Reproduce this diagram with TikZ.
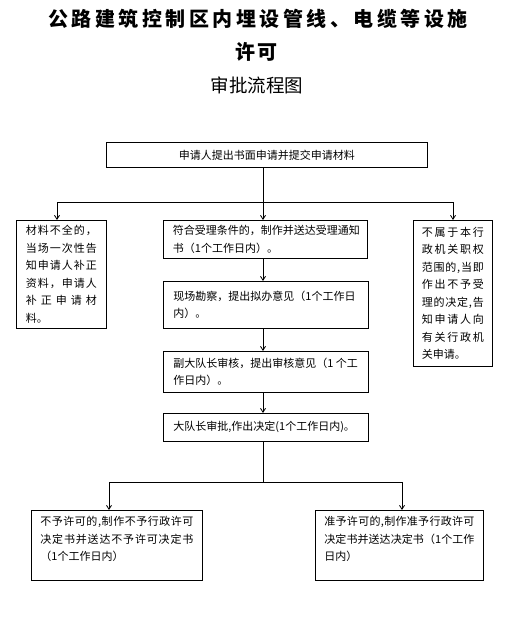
\documentclass[tikz,border=0pt]{standalone}
\usepackage{fontspec}
\setmainfont{Noto Sans CJK SC}
\usetikzlibrary{arrows.meta}
\newcommand\spr[2]{\makebox[#1][s]{\spaceskip=0pt plus 1fil\xspaceskip=0pt plus 1fil\relax #2}}
\tikzset{
  box/.style={draw, line width=0.8pt, rectangle, inner sep=0pt, anchor=north west,
    font=\fontsize{11}{17.5}\selectfont},
  ln/.style={line width=0.8pt},
  conn/.style={line width=0.8pt, -{Straight Barb[length=4pt,width=5pt]}},
}
\begin{document}
\begin{tikzpicture}[x=1pt,y=-1pt]
\useasboundingbox (0,0) rectangle (522,627);
% titles
\node[font=\fontsize{20}{24}\selectfont\bfseries] (t1) at (258,19)
  {\spr{420pt}{公 路 建 筑 控 制 区 内 埋 设 管 线 、 电 缆 等 设 施}};
\node[font=\fontsize{20}{24}\selectfont\bfseries] (t2) at (256,52)
  {\spr{42pt}{许 可}};
\node[font=\fontsize{18.5}{22}\selectfont] (t3) at (257,85) {审批流程图};
% boxes
\node[box, minimum width=321pt, minimum height=25pt] (top) at (106,142)
  {申请人提出书面申请并提交申请材料};
\node[box, minimum width=90pt, minimum height=108pt] (left) at (16,220)
  {\parbox{71pt}{%
    \spr{71pt}{材 料 不 全 的 ，}\\
    \spr{71pt}{当 场 一 次 性 告}\\
    \spr{71pt}{知 申 请 人 补 正}\\
    \spr{71pt}{资 料 ， 申 请 人}\\
    \spr{71pt}{补 正 申 请 材}\\
    料。}};
\node[box, minimum width=204pt, minimum height=38pt] (c1) at (163,220)
  {\parbox{185pt}{符合受理条件的，制作并送达受理通知\\书（1个工作日内）。}};
\node[box, minimum width=79pt, minimum height=146pt] (right) at (413,220)
  {\parbox{62pt}{%
    \spr{62pt}{不 属 于 本 行}\\
    \spr{62pt}{政 机 关 职 权}\\
    \spr{62pt}{范 围 的 , 当 即}\\
    \spr{62pt}{作 出 不 予 受}\\
    \spr{62pt}{理 的 决 定 , 告}\\
    \spr{62pt}{知 申 请 人 向}\\
    \spr{62pt}{有 关 行 政 机}\\
    关申请。}};
\node[box, minimum width=205pt, minimum height=47pt] (c2) at (163,281)
  {\parbox{185pt}{现场勘察，提出拟办意见（1个工作日\\内）。}};
\node[box, minimum width=205pt, minimum height=41pt] (c3) at (163,351)
  {\parbox{185pt}{副大队长审核，提出审核意见（1 个工\\作日内）。}};
\node[box, minimum width=205pt, minimum height=28pt] (c4) at (163,413)
  {\parbox{185pt}{大队长审批,作出决定(1个工作日内)。}};
\node[box, minimum width=171pt, minimum height=70pt] (bl) at (31,510)
  {\parbox[c][58pt][t]{153pt}{%
    \spr{153pt}{不 予 许 可 的 , 制 作 不 予 行 政 许 可}\\
    \spr{153pt}{决 定 书 并 送 达 不 予 许 可 决 定 书}\\
    （1个工作日内）}};
\node[box, minimum width=168pt, minimum height=70pt] (br) at (315,510)
  {\parbox[c][58pt][t]{150pt}{%
    \spr{150pt}{准 予 许 可 的 , 制 作 准 予 行 政 许 可}\\
    \spr{150pt}{决 定 书 并 送 达 决 定 书 （ 1 个 工 作}\\
    日内）}};
% connectors
\coordinate (sp1) at (263,202);
\coordinate (la) at (57,202);
\coordinate (ra) at (453,202);
\draw[ln] (top.south -| sp1) -- (sp1);
\draw[conn] (sp1) -- (c1.north -| sp1);
\draw[conn] (sp1) -- (la) -- (left.north -| la);
\draw[conn] (sp1) -- (ra) -- (right.north -| ra);
\draw[conn] (c1.south -| sp1) -- (c2.north -| sp1);
\draw[conn] (c2.south -| sp1) -- (c3.north -| sp1);
\draw[conn] (c3.south -| sp1) -- (c4.north -| sp1);
\coordinate (sp2) at (263,482);
\coordinate (lb) at (109,482);
\coordinate (rb) at (402,482);
\draw[ln] (c4.south -| sp2) -- (sp2);
\draw[conn] (sp2) -- (lb) -- (bl.north -| lb);
\draw[conn] (sp2) -- (rb) -- (br.north -| rb);
\end{tikzpicture}
\end{document}
